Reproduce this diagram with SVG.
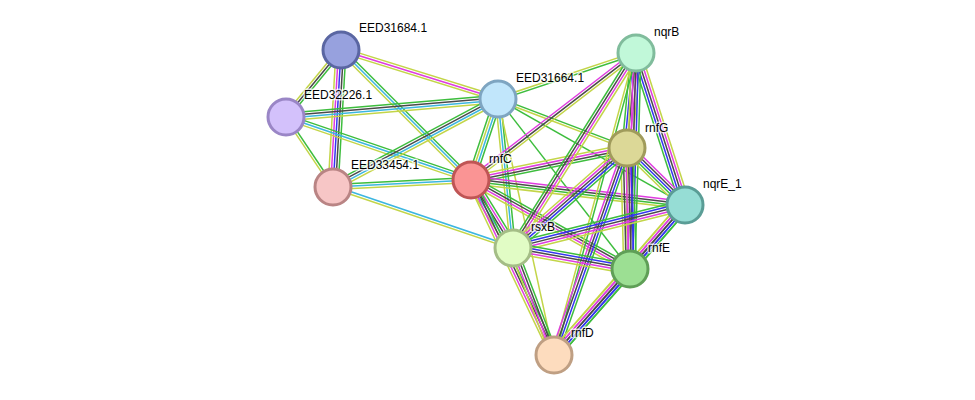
<svg xmlns="http://www.w3.org/2000/svg" width="975" height="400" viewBox="0 0 975 400">
<style>
#edges path{fill:none;stroke-width:1.2}
.g{stroke:#3dbd3d}.y{stroke:#c3d548}.k{stroke:#4a4a4a}.m{stroke:#df3ce0}.b{stroke:#3535f0}.c{stroke:#3cb6e0}
.node circle{stroke-width:3}
.node text{font-family:"Liberation Sans",Arial,sans-serif;font-size:12px;fill:#000;stroke:#fff;stroke-width:3;stroke-opacity:0.7;paint-order:stroke;stroke-linejoin:round}
</style>
<rect width="975" height="400" fill="#fff"/>
<g id="edges">
<g transform="translate(341 50) rotate(129.4) scale(1 1.25)"><path class="g" d="M0-2h86.7"/><path class="k" d="M0 0h86.7"/><path class="y" d="M0 2h86.7"/></g>
<g transform="translate(341 50) rotate(93.3) scale(1 1.25)"><path class="g" d="M0-4h137.2"/><path class="k" d="M0-2h137.2"/><path class="b" d="M0 0h137.2"/><path class="m" d="M0 2h137.2"/><path class="y" d="M0 4h137.2"/></g>
<g transform="translate(341 50) rotate(17.3) scale(1 1.25)"><path class="y" d="M0-2h164.5"/><path class="m" d="M0 0h164.5"/><path class="y" d="M0 2h164.5"/></g>
<g transform="translate(341 50) rotate(45) scale(1 1.25)"><path class="g" d="M0-2h183.8"/><path class="c" d="M0 0h183.8"/><path class="y" d="M0 2h183.8"/></g>
<g transform="translate(286 117) rotate(-4.85) scale(1 1.25)"><path class="g" d="M0-3h212.8"/><path class="k" d="M0-1h212.8"/><path class="c" d="M0 1h212.8"/><path class="y" d="M0 3h212.8"/></g>
<g transform="translate(286 117) rotate(56.1) scale(1 1.25)"><path class="g" d="M0-1h84.3"/><path class="y" d="M0 1h84.3"/></g>
<g transform="translate(286 117) rotate(18.8) scale(1 1.25)"><path class="g" d="M0-2h195.4"/><path class="c" d="M0 0h195.4"/><path class="y" d="M0 2h195.4"/></g>
<g transform="translate(333 187) rotate(-28.1) scale(1 1.25)"><path class="g" d="M0-3h187"/><path class="k" d="M0-1h187"/><path class="c" d="M0 1h187"/><path class="y" d="M0 3h187"/></g>
<g transform="translate(333 187) rotate(-2.9) scale(1 1.25)"><path class="g" d="M0-2h138.2"/><path class="c" d="M0 0h138.2"/><path class="y" d="M0 2h138.2"/></g>
<g transform="translate(333 187) rotate(18.7) scale(1 1.25)"><path class="c" d="M0-1h190.1"/><path class="y" d="M0 1h190.1"/></g>
<g transform="translate(498 99) rotate(-18.4) scale(1 1.25)"><path class="y" d="M0-1h145.5"/><path class="g" d="M0 1h145.5"/></g>
<g transform="translate(498 99) rotate(108.4) scale(1 1.25)"><path class="g" d="M0-3h85.4"/><path class="c" d="M0-1h85.4"/><path class="y" d="M0 1h85.4"/><path class="g" d="M0 3h85.4"/></g>
<g transform="translate(498 99) rotate(20.8) scale(1 1.25)"><path class="g" d="M0-1h138"/><path class="y" d="M0 1h138"/></g>
<g transform="translate(498 99) rotate(29.5) scale(1 1.25)"><path class="g" d="M0 0h215"/></g>
<g transform="translate(498 99) rotate(84.3) scale(1 1.25)"><path class="g" d="M0-2h149.8"/><path class="c" d="M0 0h149.8"/><path class="y" d="M0 2h149.8"/></g>
<g transform="translate(498 99) rotate(52.2) scale(1 1.25)"><path class="g" d="M0 0h215.2"/></g>
<g transform="translate(498 99) rotate(77.7) scale(1 1.25)"><path class="y" d="M0 0h262.1"/></g>
<g transform="translate(471 180) rotate(-37.6) scale(1 1.25)"><path class="m" d="M0-2h208.2"/><path class="k" d="M0 0h208.2"/><path class="y" d="M0 2h208.2"/></g>
<g transform="translate(471 180) rotate(-11.6) scale(1 1.25)"><path class="y" d="M0-3h159.2"/><path class="m" d="M0-1h159.2"/><path class="k" d="M0 1h159.2"/><path class="g" d="M0 3h159.2"/></g>
<g transform="translate(471 180) rotate(6.7) scale(1 1.25)"><path class="m" d="M0-3h215.5"/><path class="k" d="M0-1h215.5"/><path class="g" d="M0 1h215.5"/><path class="y" d="M0 3h215.5"/></g>
<g transform="translate(471 180) rotate(58.3) scale(1 1.25)"><path class="g" d="M0-4h79.9"/><path class="m" d="M0-2h79.9"/><path class="k" d="M0 0h79.9"/><path class="c" d="M0 2h79.9"/><path class="y" d="M0 4h79.9"/></g>
<g transform="translate(471 180) rotate(29.2) scale(1 1.25)"><path class="g" d="M0-3h182.2"/><path class="k" d="M0-1h182.2"/><path class="m" d="M0 1h182.2"/><path class="y" d="M0 3h182.2"/></g>
<g transform="translate(471 180) rotate(64.6) scale(1 1.25)"><path class="g" d="M0-3h193.7"/><path class="k" d="M0-1h193.7"/><path class="m" d="M0 1h193.7"/><path class="y" d="M0 3h193.7"/></g>
<g transform="translate(636 53) rotate(95.4) scale(1 1.25)"><path class="y" d="M0-4h95.4"/><path class="m" d="M0-2h95.4"/><path class="k" d="M0 0h95.4"/><path class="b" d="M0 2h95.4"/><path class="g" d="M0 4h95.4"/></g>
<g transform="translate(636 53) rotate(72.1) scale(1 1.25)"><path class="y" d="M0-4h159.7"/><path class="m" d="M0-2h159.7"/><path class="k" d="M0 0h159.7"/><path class="b" d="M0 2h159.7"/><path class="g" d="M0 4h159.7"/></g>
<g transform="translate(636 53) rotate(122.2) scale(1 1.25)"><path class="y" d="M0-3h230.6"/><path class="m" d="M0-1h230.6"/><path class="k" d="M0 1h230.6"/><path class="g" d="M0 3h230.6"/></g>
<g transform="translate(636 53) rotate(91.6) scale(1 1.25)"><path class="g" d="M0-4h216.1"/><path class="b" d="M0-2h216.1"/><path class="k" d="M0 0h216.1"/><path class="m" d="M0 2h216.1"/><path class="y" d="M0 4h216.1"/></g>
<g transform="translate(636 53) rotate(105.2) scale(1 1.25)"><path class="g" d="M0-1h312.9"/><path class="y" d="M0 1h312.9"/></g>
<g transform="translate(627 148) rotate(44.5) scale(1 1.25)"><path class="m" d="M0-4h81.3"/><path class="k" d="M0-2h81.3"/><path class="b" d="M0 0h81.3"/><path class="g" d="M0 2h81.3"/><path class="y" d="M0 4h81.3"/></g>
<g transform="translate(627 148) rotate(138.7) scale(1 1.25)"><path class="g" d="M0-4h151.6"/><path class="b" d="M0-2h151.6"/><path class="k" d="M0 0h151.6"/><path class="m" d="M0 2h151.6"/><path class="y" d="M0 4h151.6"/></g>
<g transform="translate(627 148) rotate(88.6) scale(1 1.25)"><path class="g" d="M0-5h121"/><path class="b" d="M0-3h121"/><path class="k" d="M0-1h121"/><path class="m" d="M0 1h121"/><path class="k" d="M0 3h121"/><path class="y" d="M0 5h121"/></g>
<g transform="translate(627 148) rotate(109.4) scale(1 1.25)"><path class="g" d="M0-3h219.5"/><path class="b" d="M0-1h219.5"/><path class="k" d="M0 1h219.5"/><path class="m" d="M0 3h219.5"/></g>
<g transform="translate(685 205) rotate(166) scale(1 1.25)"><path class="y" d="M0-4h177.3"/><path class="m" d="M0-2h177.3"/><path class="k" d="M0 0h177.3"/><path class="b" d="M0 2h177.3"/><path class="g" d="M0 4h177.3"/></g>
<g transform="translate(685 205) rotate(130.7) scale(1 1.25)"><path class="g" d="M0-4h84.4"/><path class="b" d="M0-2h84.4"/><path class="k" d="M0 0h84.4"/><path class="m" d="M0 2h84.4"/><path class="y" d="M0 4h84.4"/></g>
<g transform="translate(685 205) rotate(131.1) scale(1 1.25)"><path class="g" d="M0-4h199.2"/><path class="b" d="M0-2h199.2"/><path class="k" d="M0 0h199.2"/><path class="m" d="M0 2h199.2"/><path class="y" d="M0 4h199.2"/></g>
<g transform="translate(513 248) rotate(10.2) scale(1 1.25)"><path class="g" d="M0-4h118.9"/><path class="b" d="M0-2h118.9"/><path class="k" d="M0 0h118.9"/><path class="m" d="M0 2h118.9"/><path class="y" d="M0 4h118.9"/></g>
<g transform="translate(513 248) rotate(69) scale(1 1.25)"><path class="g" d="M0-3h114.6"/><path class="k" d="M0-1h114.6"/><path class="m" d="M0 1h114.6"/><path class="y" d="M0 3h114.6"/></g>
<g transform="translate(630 269) rotate(131.5) scale(1 1.25)"><path class="g" d="M0-4h114.8"/><path class="b" d="M0-2h114.8"/><path class="k" d="M0 0h114.8"/><path class="m" d="M0 2h114.8"/><path class="y" d="M0 4h114.8"/></g>
</g>
<g id="EED31684.1" class="node"><circle cx="341" cy="50" r="18" fill="#97a1de" stroke="#5a66a2"/><text x="359" y="32">EED31684.1</text></g>
<g id="EED32226.1" class="node"><circle cx="286" cy="117" r="18" fill="#d3c1fb" stroke="#9a86c6"/><text x="304" y="99">EED32226.1</text></g>
<g id="EED33454.1" class="node"><circle cx="333" cy="187" r="18" fill="#f7c6c6" stroke="#b98484"/><text x="351" y="169">EED33454.1</text></g>
<g id="EED31664.1" class="node"><circle cx="498" cy="99" r="18" fill="#c1e6fb" stroke="#7ea5c1"/><text x="516" y="82">EED31664.1</text></g>
<g id="rnfC" class="node"><circle cx="471" cy="180" r="18" fill="#fa9494" stroke="#bf5555"/><text x="489" y="163">rnfC</text></g>
<g id="nqrB" class="node"><circle cx="636" cy="53" r="18" fill="#c1f8d9" stroke="#80bc9c"/><text x="654" y="36">nqrB</text></g>
<g id="rnfG" class="node"><circle cx="627" cy="148" r="18" fill="#dcd897" stroke="#a09b5b"/><text x="645" y="132">rnfG</text></g>
<g id="nqrE_1" class="node"><circle cx="685" cy="205" r="18" fill="#96ddd5" stroke="#5a9d96"/><text x="703" y="188">nqrE_1</text></g>
<g id="rsxB" class="node"><circle cx="513" cy="248" r="18" fill="#e1fcc5" stroke="#a4bd86"/><text x="531" y="231">rsxB</text></g>
<g id="rnfE" class="node"><circle cx="630" cy="269" r="18" fill="#9cdf93" stroke="#5f9f57"/><text x="648" y="252">rnfE</text></g>
<g id="rnfD" class="node"><circle cx="554" cy="355" r="18" fill="#fddcbe" stroke="#bf9f83"/><text x="571" y="337">rnfD</text></g>
</svg>
